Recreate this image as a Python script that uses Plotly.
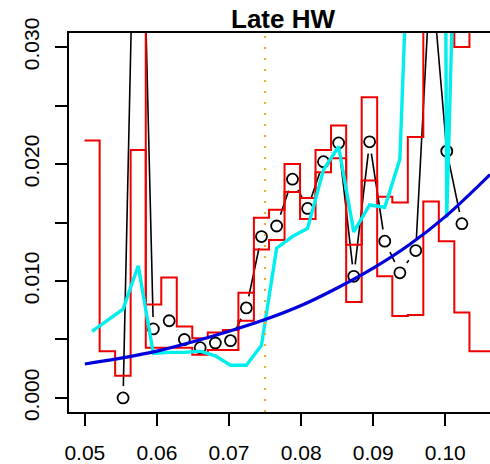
import plotly.graph_objects as go

# ---------------- data ----------------
bin_x = [0.0510, 0.0531, 0.0553, 0.0574, 0.0595, 0.0617, 0.0638, 0.0660, 0.0681, 0.0702,
         0.0724, 0.0745, 0.0766, 0.0788, 0.0809, 0.0831, 0.0852, 0.0873, 0.0895, 0.0916,
         0.0937, 0.0959, 0.0980, 0.1002, 0.1023, 0.1044, 0.1066]

observed = [None, None, 0.0000, 0.0590, 0.0059, 0.0066, 0.0050, 0.0043, 0.0047, 0.0049,
            0.0077, 0.0138, 0.0147, 0.0187, 0.0162, 0.0202, 0.0218, 0.0104, 0.0219, 0.0134,
            0.0107, 0.0126, 0.0370, 0.0211, 0.0149, None, None]

upper = [None, None, None, 0.0450, 0.0080, 0.0103, 0.0061, 0.0051, 0.0056, 0.0058,
         0.0090, 0.0154, 0.0161, 0.0200, 0.0171, 0.0212, 0.0233, 0.0131, 0.0257, 0.0172,
         0.0167, 0.0223, 0.0450, 0.0450, 0.0300, 0.0450, 0.0450]

lower = [0.0220, 0.0040, 0.0019, 0.0212, 0.0043, 0.0043, 0.0043, 0.0037, 0.0041, 0.0041,
         0.0066, 0.0127, 0.0135, 0.0176, 0.0153, 0.0193, 0.0205, 0.0082, 0.0186, 0.0104,
         0.0070, 0.0071, 0.0168, 0.0134, 0.0073, 0.0040, 0.0040]

cyan = [0.0057, 0.0066, 0.0076, 0.0113, 0.0038, 0.0039, 0.0039, 0.0040, 0.0036, 0.0028,
        0.0028, 0.0045, 0.0128, 0.0138, 0.0145, 0.0195, 0.0215, 0.0142, 0.0165, 0.0163,
        0.0204, 0.0570, 0.3000, 0.0154, 0.0630, None, None]

curve_x = [0.0500, 0.0550, 0.0600, 0.0650, 0.0700, 0.0750, 0.0800, 0.0850, 0.0900,
           0.0950, 0.1000, 0.1062]
curve_y = [0.0029, 0.0034, 0.0040, 0.0048, 0.0057, 0.0067, 0.0079, 0.0094, 0.0111,
           0.0131, 0.0155, 0.0191]

vline_x = 0.075
x_ticks = [0.05, 0.06, 0.07, 0.08, 0.09, 0.10]
x_labels = ["0.05", "0.06", "0.07", "0.08", "0.09", "0.10"]
y_ticks = [0.000, 0.005, 0.010, 0.015, 0.020, 0.025, 0.030]
y_labels = ["0.000", "", "0.010", "", "0.020", "", "0.030"]
title = "Late HW"

x_full = [0.0478, 0.1072]   # R-style extended xlim (plot is cut at the right)
x_view = [0.0478, 0.1062]
y_view = [-0.0012, 0.0312]

# ---------------- helpers ----------------
n = len(bin_x)
edges = [bin_x[0] - (bin_x[1] - bin_x[0]) / 2]
edges += [(bin_x[i - 1] + bin_x[i]) / 2 for i in range(1, n)]
edges += [bin_x[-1] + (bin_x[-1] - bin_x[-2]) / 2]


def steps(vals):
    xs, ys = [], []
    prev = None
    for i, v in enumerate(vals):
        if v is None:
            if prev is not None:
                xs.append(None)
                ys.append(None)
            prev = None
            continue
        xs += [edges[i], edges[i + 1]]
        ys += [v, v]
        prev = v
    return xs, ys


FONT = "Liberation Sans, Arial, Helvetica, sans-serif"
fig = go.Figure()

# black connecting line (type = "b")
fig.add_trace(go.Scatter(x=bin_x, y=observed, mode="lines",
                         line=dict(color="black", width=1.6), connectgaps=False,
                         hoverinfo="skip"))
# white gaps around points
fig.add_trace(go.Scatter(x=bin_x, y=observed, mode="markers",
                         marker=dict(symbol="circle", size=24, color="white",
                                     line=dict(width=0)), hoverinfo="skip"))
# open circles
fig.add_trace(go.Scatter(x=bin_x, y=observed, mode="markers",
                         marker=dict(symbol="circle-open", size=11, color="black",
                                     line=dict(width=1.8, color="black"))))

for vals in (upper, lower):
    sx, sy = steps(vals)
    fig.add_trace(go.Scatter(x=sx, y=sy, mode="lines",
                             line=dict(color="#EE0000", width=2), connectgaps=False,
                             hoverinfo="skip"))

fig.add_trace(go.Scatter(x=bin_x, y=cyan, mode="lines",
                         line=dict(color="#00EEEE", width=3.4), connectgaps=False,
                         hoverinfo="skip"))

fig.add_trace(go.Scatter(x=curve_x, y=curve_y, mode="lines",
                         line=dict(color="#0000DD", width=3.2, shape="spline"),
                         hoverinfo="skip"))

fig.add_trace(go.Scatter(x=[vline_x, vline_x], y=y_view, mode="lines",
                         line=dict(color="#F5A623", width=2, dash="2px,9px"),
                         hoverinfo="skip"))

fig.add_annotation(text="<b>" + title + "</b>", x=sum(x_full) / 2, xref="x",
                   y=1, yref="paper", yanchor="bottom", xanchor="center",
                   yshift=-3, showarrow=False,
                   font=dict(family=FONT, size=26, color="black"))

fig.update_layout(
    width=490, height=464,
    margin=dict(l=69, r=0, t=33, b=52, autoexpand=False),
    paper_bgcolor="white", plot_bgcolor="white",
    showlegend=False,
    font=dict(family=FONT, size=21, color="black"),
    xaxis=dict(range=x_view, tickvals=x_ticks, ticktext=x_labels,
               ticks="outside", ticklen=12, tickwidth=1.5, tickcolor="black",
               showline=True, linecolor="black", linewidth=1.5, mirror=True,
               showgrid=False, zeroline=False, ticklabelstandoff=9,
               automargin=False),
    yaxis=dict(range=y_view, tickvals=y_ticks, ticktext=y_labels, tickangle=-90,
               ticks="outside", ticklen=12, tickwidth=1.5, tickcolor="black",
               showline=True, linecolor="black", linewidth=1.5, mirror=False,
               showgrid=False, zeroline=False, ticklabelstandoff=8,
               automargin=False),
)

fig.write_html("out.html")
